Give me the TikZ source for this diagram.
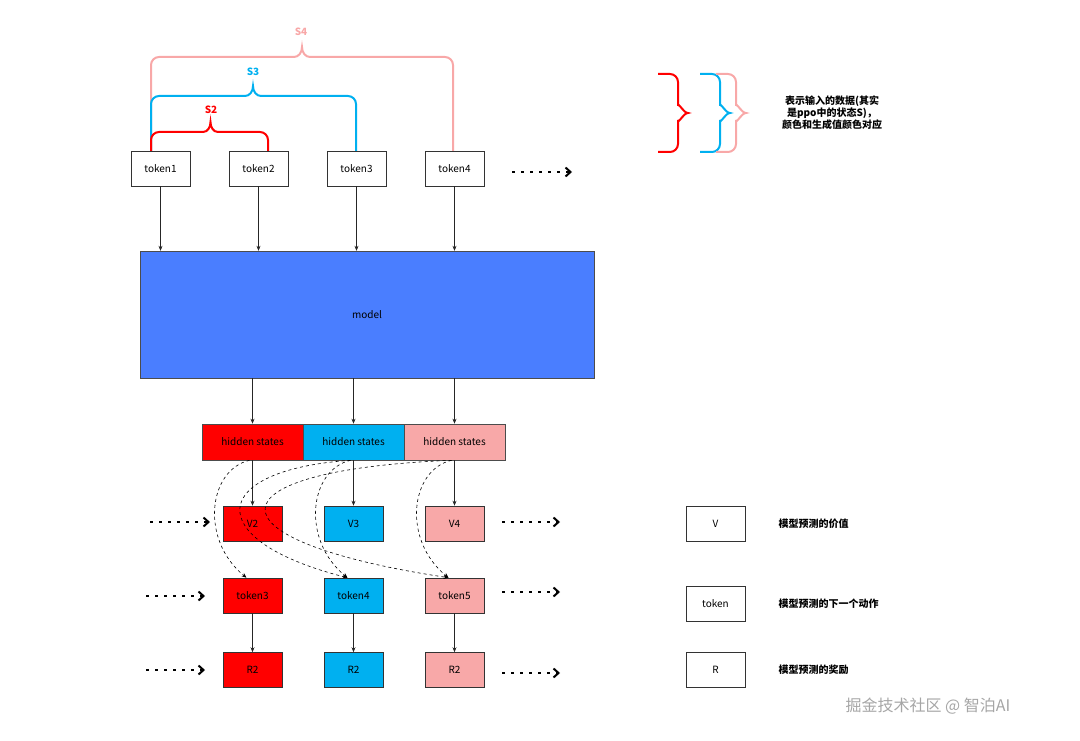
\documentclass[tikz,border=0pt]{standalone}
\usepackage{fontspec}
\setmainfont{Noto Sans CJK SC}
\usetikzlibrary{arrows.meta}
\definecolor{cr}{HTML}{FF0000}
\definecolor{cb}{HTML}{00B0F0}
\definecolor{cp}{HTML}{F8A8A8}
\definecolor{cm}{HTML}{4A7EFF}
\begin{document}
\begin{tikzpicture}[x=1pt,y=-1pt,
  box/.style={draw=black!80,line width=0.6pt,minimum width=59pt,minimum height=35pt,inner sep=0pt,font=\fontsize{10}{12}\selectfont},
  hs/.style={draw=black!70,line width=0.6pt,minimum width=101pt,minimum height=36pt,inner sep=0pt,font=\fontsize{10}{12}\selectfont},
  arr/.style={-{Stealth[length=5pt,width=4pt]},line width=0.6pt,black!85},
  dots/.style={line width=2pt,dash pattern=on 3pt off 6pt,-{Straight Barb[length=5pt,width=9pt,line width=2pt]}},
  dcurve/.style={dashed,line width=0.6pt,-{Stealth[length=5pt,width=4pt]}},
  br/.style={line width=2pt},
  lbl/.style={font=\fontsize{10}{12}\selectfont\bfseries}]
\useasboundingbox (0,0) rectangle (1080,741);
% tokens
\node[box] (t1) at (160.5,168.5) {token1};
\node[box] (t2) at (258.5,168.5) {token2};
\node[box] (t3) at (356.5,168.5) {token3};
\node[box] (t4) at (454.5,168.5) {token4};
\node[draw=black!70,fill=cm,minimum width=454pt,minimum height=127pt,font=\fontsize{10}{12}\selectfont] (m) at (367,314.5) {model};
\foreach \t in {t1,t2,t3,t4} \draw[arr] (\t) -- (\t |- m.north);
% braces
\draw[cp,br,rounded corners=8] (151,151) -- (151,57) -- (294,57);
\draw[cp,br,rounded corners=8] (453,151) -- (453,57) -- (310,57);
\draw[cp,br] (294,57) to[out=0,in=-90] (302,47) to[out=-90,in=180] (310,57);
\node[lbl,text=cp] (s4) at (301,32) {S4};
\draw[cb,br,rounded corners=8] (151,151) -- (151,96) -- (245,96);
\draw[cb,br,rounded corners=8] (356,151) -- (356,96) -- (261,96);
\draw[cb,br] (245,96) to[out=0,in=-90] (253,86) to[out=-90,in=180] (261,96);
\node[lbl,text=cb] (s3) at (253,72) {S3};
\draw[cr,br,rounded corners=8] (151,151) -- (151,132) -- (203,132);
\draw[cr,br,rounded corners=8] (268,151) -- (268,132) -- (218,132);
\draw[cr,br] (203,132) to[out=0,in=-90] (210.5,122) to[out=-90,in=180] (218,132);
\node[lbl,text=cr] (s2) at (211,110) {S2};
\coordinate (d0a) at (512,172); \coordinate (d0b) at (572,172);
\draw[dots] (d0a) -- (d0b);
% hidden states
\node[hs,fill=cr] (h1) at (252.5,442) {hidden states};
\node[hs,fill=cb] (h2) at (353.5,442) {hidden states};
\node[hs,fill=cp] (h3) at (454.5,442) {hidden states};
\foreach \h in {h1,h2,h3} \draw[arr] (\h |- m.south) -- (\h);
% V
\node[box,fill=cr] (v1) at (252.5,523.5) {V2};
\node[box,fill=cb] (v2) at (353.5,523.5) {V3};
\node[box,fill=cp] (v3) at (454.5,523.5) {V4};
\node[box,fill=cr] (k1) at (252.5,595.5) {token3};
\node[box,fill=cb] (k2) at (353.5,595.5) {token4};
\node[box,fill=cp] (k3) at (454.5,595.5) {token5};
\node[box,fill=cr] (r1) at (252.5,670) {R2};
\node[box,fill=cb] (r2) at (353.5,670) {R2};
\node[box,fill=cp] (r3) at (454.5,670) {R2};
\foreach \i in {1,2,3}{
  \draw[arr] (h\i) -- (v\i);
  \draw[arr] (k\i) -- (r\i);
  \draw[dcurve] ([xshift=-3pt]h\i.south) .. controls (208,470) and (200,540) .. ([xshift=-6pt]h\i.south |- k\i.north);
}
\draw[dcurve] ([xshift=-3pt]h2.south) .. controls (309,470) and (301,540) .. ([xshift=-6pt]k2.north);
\draw[dcurve] ([xshift=-3pt]h3.south) .. controls (410,470) and (402,540) .. ([xshift=-6pt]k3.north);
\coordinate (a1) at (150,522); \coordinate (a2) at (210,522);
\coordinate (b1) at (146,596); \coordinate (b2) at (205,596);
\coordinate (c1) at (146,670); \coordinate (c2) at (205,670);
\coordinate (e1) at (502,522); \coordinate (e2) at (560,522);
\coordinate (f1) at (502,592); \coordinate (f2) at (560,592);
\coordinate (g1) at (502,673); \coordinate (g2) at (560,673);
\draw[dots] (a1)--(a2); \draw[dots] (b1)--(b2); \draw[dots] (c1)--(c2);
\draw[dots] (e1)--(e2); \draw[dots] (f1)--(f2); \draw[dots] (g1)--(g2);
% legend
\node[box] (lv) at (715.5,523.5) {V};
\node[box] (lt) at (715.5,603.5) {token};
\node[box] (lr) at (715.5,670) {R};
\node[lbl,anchor=west] (lvt) at (775,523.5) {模型预测的价值};
\node[lbl,anchor=west] (ltt) at (775,603.5) {模型预测的下一个动作};
\node[lbl,anchor=west] (lrt) at (775,670) {模型预测的奖励};
% vertical braces
\foreach \c/\x in {cr/658,cb/700,cp/716}{
  \draw[\c,br,rounded corners=8] (\x,74) -- (\x+20,74) -- (\x+20,106);
  \draw[\c,br,rounded corners=8] (\x,152) -- (\x+20,152) -- (\x+20,120);
  \draw[\c,br] (\x+20,106) to[out=90,in=180] (\x+30,113) to[out=180,in=-90] (\x+20,120);
}
\node[lbl,align=center] (note) at (832,113) {表示输入的数据(其实\\是ppo中的状态S)，\\颜色和生成值颜色对应};
\node[font=\fontsize{16}{18}\selectfont,text=black!35] (wm) at (928,706) {掘金技术社区 @ 智泊AI};
\end{tikzpicture}
\end{document}
